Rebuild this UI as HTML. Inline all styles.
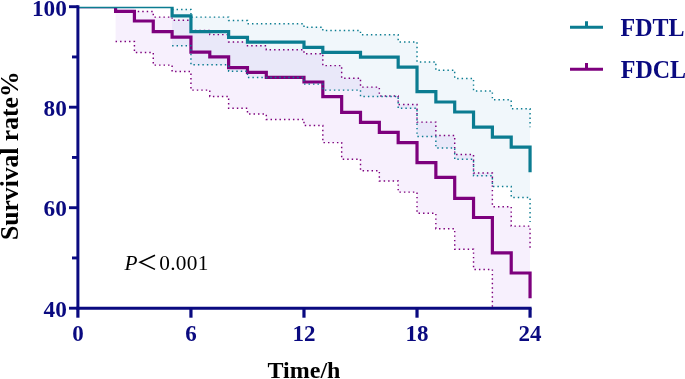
<!DOCTYPE html>
<html><head><meta charset="utf-8"><style>
html,body{margin:0;padding:0;background:#fff;}
body{width:685px;height:379px;overflow:hidden;}
svg{display:block;filter:blur(0.3px);}
text{font-family:"Liberation Serif",serif;}
</style></head><body>
<svg width="685" height="379" viewBox="0 0 685 379">
<defs><clipPath id="pc"><rect x="77.9" y="6.7" width="454.16" height="301.5"/></clipPath></defs>

<g clip-path="url(#pc)">
<path d="M115.58 6.7 L134.42 6.7 L134.42 11.4 L153.26 11.4 L153.26 17.1 L172.1 17.1 L172.1 20.3 L190.94 20.3 L190.94 30.5 L209.78 30.5 L209.78 34.6 L228.62 34.6 L228.62 41.9 L247.46 41.9 L247.46 45.8 L266.3 45.8 L266.3 49.8 L303.98 49.8 L303.98 53.7 L322.82 53.7 L322.82 65.6 L341.66 65.6 L341.66 78.3 L360.5 78.3 L360.5 87.1 L379.34 87.1 L379.34 96 L398.18 96 L398.18 104.5 L417.02 104.5 L417.02 122.1 L435.86 122.1 L435.86 135.5 L454.7 135.5 L454.7 154.5 L473.54 154.5 L473.54 173 L492.38 173 L492.38 206.7 L511.22 206.7 L511.22 226.1 L530.06 226.1 L530.06 340 L492.38 340 L492.38 269.4 L473.54 269.4 L473.54 249.3 L454.7 249.3 L454.7 228.7 L435.86 228.7 L435.86 213.3 L417.02 213.3 L417.02 192.1 L398.18 192.1 L398.18 181 L379.34 181 L379.34 170.7 L360.5 170.7 L360.5 159.2 L341.66 159.2 L341.66 142.6 L322.82 142.6 L322.82 125.5 L303.98 125.5 L303.98 119.4 L266.3 119.4 L266.3 114 L247.46 114 L247.46 108.3 L228.62 108.3 L228.62 96.4 L209.78 96.4 L209.78 90.1 L190.94 90.1 L190.94 71.5 L172.1 71.5 L172.1 65.1 L153.26 65.1 L153.26 52.5 L134.42 52.5 L134.42 41.4 L115.58 41.4Z" fill="#f7f0fd" style="mix-blend-mode:multiply"/>
<path d="M172.1 9.5 L190.94 9.5 L190.94 17.1 L228.62 17.1 L228.62 20.5 L247.46 20.5 L247.46 23.7 L303.98 23.7 L303.98 27.2 L322.82 27.2 L322.82 30.5 L360.5 30.5 L360.5 34.7 L398.18 34.7 L398.18 41.9 L417.02 41.9 L417.02 61.9 L435.86 61.9 L435.86 70.2 L454.7 70.2 L454.7 78.4 L473.54 78.4 L473.54 91 L492.38 91 L492.38 99.8 L511.22 99.8 L511.22 108.7 L530.06 108.7 L530.06 197.4 L511.22 197.4 L511.22 186.4 L492.38 186.4 L492.38 175.7 L473.54 175.7 L473.54 159.3 L454.7 159.3 L454.7 148 L435.86 148 L435.86 136.5 L417.02 136.5 L417.02 108.2 L398.18 108.2 L398.18 96.4 L360.5 96.4 L360.5 90.1 L322.82 90.1 L322.82 84.1 L303.98 84.1 L303.98 77.5 L247.46 77.5 L247.46 71.2 L228.62 71.2 L228.62 64.8 L190.94 64.8 L190.94 45.8 L172.1 45.8Z" fill="#f1f7fb" style="mix-blend-mode:multiply"/>
<path d="M115.58 6.7H134.42V11.4H153.26V17.1H172.1V20.3H190.94V30.5H209.78V34.6H228.62V41.9H247.46V45.8H266.3V49.8H303.98V53.7H322.82V65.6H341.66V78.3H360.5V87.1H379.34V96H398.18V104.5H417.02V122.1H435.86V135.5H454.7V154.5H473.54V173H492.38V206.7H511.22V226.1H530.06V249.3" stroke="#7d007d" stroke-width="1.45" stroke-dasharray="1.45 3.03" fill="none"/>
<path d="M115.58 41.4H134.42V52.5H153.26V65.1H172.1V71.5H190.94V90.1H209.78V96.4H228.62V108.3H247.46V114H266.3V119.4H303.98V125.5H322.82V142.6H341.66V159.2H360.5V170.7H379.34V181H398.18V192.1H417.02V213.3H435.86V228.7H454.7V249.3H473.54V269.4H492.38V340H530.06" stroke="#7d007d" stroke-width="1.45" stroke-dasharray="1.45 3.03" fill="none"/>
<path d="M77.9 6.7H115.58V11.3H134.42V21H153.26V31.6H172.1V37.1H190.94V52.2H209.78V56.9H228.62V67.7H247.46V72.4H266.3V77.3H303.98V82H322.82V96.6H341.66V112.4H360.5V122.3H379.34V132.4H398.18V142.7H417.02V162.7H435.86V177.4H454.7V198.3H473.54V217.5H492.38V252.8H511.22V273H530.06V298.2" stroke="#7d007d" stroke-width="3.2" fill="none" stroke-linejoin="miter"/>
<path d="M172.1 9.5H190.94V17.1H228.62V20.5H247.46V23.7H303.98V27.2H322.82V30.5H360.5V34.7H398.18V41.9H417.02V61.9H435.86V70.2H454.7V78.4H473.54V91H492.38V99.8H511.22V108.7H530.06V127.2" stroke="#0b7c91" stroke-width="1.45" stroke-dasharray="1.45 3.03" fill="none"/>
<path d="M172.1 45.8H190.94V64.8H228.62V71.2H247.46V77.5H303.98V84.1H322.82V90.1H360.5V96.4H398.18V108.2H417.02V136.5H435.86V148H454.7V159.3H473.54V175.7H492.38V186.4H511.22V197.4H530.06V222" stroke="#0b7c91" stroke-width="1.45" stroke-dasharray="1.45 3.03" fill="none"/>
<path d="M77.9 6.7H172.1V15.8H190.94V31.6H228.62V37.4H247.46V42.1H303.98V47.3H322.82V52.4H360.5V57.2H398.18V67.1H417.02V91.6H435.86V102H454.7V112H473.54V127.2H492.38V137.2H511.22V147.2H530.06V172.2" stroke="#0b7c91" stroke-width="3.2" fill="none" stroke-linejoin="miter"/>
</g>
<path d="M77.9 5.3 V309.6" stroke="#0a0a80" stroke-width="3" fill="none"/>
<path d="M76.5 308.2 H531.56" stroke="#0a0a80" stroke-width="3.1" fill="none"/>
<path d="M69 6.7 H77.9" stroke="#0a0a80" stroke-width="2.9"/>
<path d="M69 107.2 H77.9" stroke="#0a0a80" stroke-width="2.9"/>
<path d="M69 207.7 H77.9" stroke="#0a0a80" stroke-width="2.9"/>
<path d="M69 308.2 H77.9" stroke="#0a0a80" stroke-width="2.9"/>
<path d="M72 56.95 H77.9" stroke="#0a0a80" stroke-width="2.9"/>
<path d="M72 157.45 H77.9" stroke="#0a0a80" stroke-width="2.9"/>
<path d="M72 257.95 H77.9" stroke="#0a0a80" stroke-width="2.9"/>
<path d="M77.9 308.2 V317.7" stroke="#0a0a80" stroke-width="3.2"/>
<path d="M190.94 308.2 V317.7" stroke="#0a0a80" stroke-width="3.2"/>
<path d="M303.98 308.2 V317.7" stroke="#0a0a80" stroke-width="3.2"/>
<path d="M417.02 308.2 V317.7" stroke="#0a0a80" stroke-width="3.2"/>
<path d="M530.06 308.2 V317.7" stroke="#0a0a80" stroke-width="3.2"/>
<text transform="translate(66.9 15.7) scale(1 1.025)" font-size="23.3" font-weight="bold" fill="#0a0a80" text-anchor="end">100</text>
<text transform="translate(66.9 115.6) scale(1 1.025)" font-size="23.3" font-weight="bold" fill="#0a0a80" text-anchor="end">80</text>
<text transform="translate(66.9 216.1) scale(1 1.025)" font-size="23.3" font-weight="bold" fill="#0a0a80" text-anchor="end">60</text>
<text transform="translate(66.9 316.6) scale(1 1.025)" font-size="23.3" font-weight="bold" fill="#0a0a80" text-anchor="end">40</text>
<text x="77.9" y="341" font-size="23" font-weight="bold" fill="#0a0a80" text-anchor="middle">0</text>
<text x="190.94" y="341" font-size="23" font-weight="bold" fill="#0a0a80" text-anchor="middle">6</text>
<text x="303.98" y="341" font-size="23" font-weight="bold" fill="#0a0a80" text-anchor="middle">12</text>
<text x="417.02" y="341" font-size="23" font-weight="bold" fill="#0a0a80" text-anchor="middle">18</text>
<text x="530.06" y="341" font-size="23" font-weight="bold" fill="#0a0a80" text-anchor="middle">24</text>
<text x="304" y="377.6" font-size="24" font-weight="bold" fill="#000" text-anchor="middle">Time/h</text>
<text transform="translate(18.2 155.75) rotate(-90)" x="0" y="0" font-size="25.6" font-weight="bold" fill="#000" text-anchor="middle">Survival rate%</text>
<text x="124.4" y="270.4" font-size="21.3" fill="#000" font-style="italic">P</text>
<path d="M155 255.2 L140 262.3 L155 269.4" stroke="#000" stroke-width="1.5" fill="none"/>
<text x="159.2" y="270.4" font-size="21.3" fill="#000" letter-spacing="0.35">0.001</text>
<path d="M570 27.3 H603 M586.5 27.3 V21.3" stroke="#0b7c91" stroke-width="3" fill="none"/>
<path d="M570 69.2 H603 M586.5 69.2 V63.1" stroke="#7d007d" stroke-width="3" fill="none"/>
<text transform="translate(620.5 35.7) scale(1 1.08)" font-size="24" font-weight="bold" fill="#0a0a80">FDTL</text>
<text transform="translate(620.8 77.7) scale(1 1.08)" font-size="24" font-weight="bold" fill="#0a0a80">FDCL</text>
</svg></body></html>
